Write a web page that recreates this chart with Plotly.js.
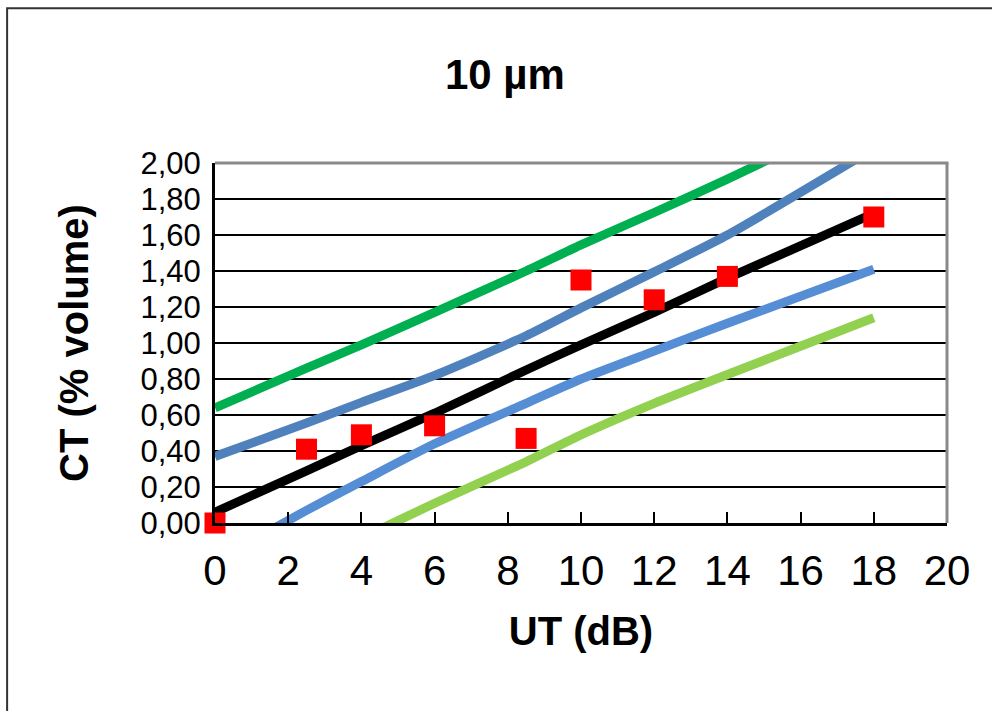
<!DOCTYPE html>
<html>
<head>
<meta charset="utf-8">
<script src="https://cdn.plot.ly/plotly-3.0.1.min.js"></script>
<style>
  html, body { margin: 0; padding: 0; background: #fff; }
  #chart { width: 992px; height: 711px; }
</style>
</head>
<body>
<div id="chart"></div>
<script>
// ---- data ----
const utDB        = [0, 2.5, 4, 6, 8.5, 10, 12, 14, 18];
const ctMeasured  = [0.00, 0.41, 0.49, 0.54, 0.47, 1.35, 1.24, 1.37, 1.70];
const ctFit       = [0.06, 0.29, 0.43, 0.61, 0.85, 0.99, 1.17, 1.36, 1.72];
const upperOuter  = [0.64, 0.86, 0.99, 1.17, 1.40, 1.545, 1.725, 1.91, 2.30];
const upperInner  = [0.37, 0.555, 0.67, 0.82, 1.04, 1.195, 1.395, 1.60, 2.08];
const lowerInner  = [-0.21, 0.07, 0.23, 0.44, 0.665, 0.80, 0.955, 1.11, 1.41];
const lowerOuter  = [-0.47, -0.23, -0.085, 0.11, 0.34, 0.49, 0.665, 0.825, 1.14];
const xTickVals   = [0, 2, 4, 6, 8, 10, 12, 14, 16, 18, 20];
const yTickVals   = [0, 0.2, 0.4, 0.6, 0.8, 1.0, 1.2, 1.4, 1.6, 1.8, 2.0];
const yTickText   = ["0,00","0,20","0,40","0,60","0,80","1,00","1,20","1,40","1,60","1,80","2,00"];

const FONT = "Liberation Sans, Arial, sans-serif";

function band(y, color) {
  return {
    x: utDB, y: y, type: "scatter", mode: "lines",
    line: { color: color, width: 9, shape: "spline", smoothing: 0.6 },
    hoverinfo: "skip", showlegend: false
  };
}

const traces = [
  band(upperOuter, "#00B050"),
  band(upperInner, "#4F81BD"),
  band(lowerInner, "#558ED5"),
  band(lowerOuter, "#92D050"),
  band(ctFit, "#000000"),
  {
    x: utDB, y: ctMeasured, type: "scatter", mode: "markers",
    marker: { symbol: "square", size: 21, color: "#FF0000", line: { width: 0 } },
    cliponaxis: false, showlegend: false
  }
];

const layout = {
  width: 992, height: 711,
  paper_bgcolor: "#ffffff", plot_bgcolor: "#ffffff",
  margin: { l: 215, r: 45, t: 163, b: 188 },
  showlegend: false,
  font: { family: FONT, color: "#000" },
  title: {
    text: "<b>10 µm</b>",
    font: { family: FONT, size: 42, color: "#000" },
    xref: "paper", x: 0.396, xanchor: "center",
    yref: "container", y: 0.895, yanchor: "middle"
  },
  xaxis: {
    range: [0, 20], tickvals: xTickVals, ticktext: xTickVals.map(String),
    showgrid: false, zeroline: false,
    showline: true, linecolor: "#000", linewidth: 3,
    ticks: "inside", ticklen: 11, tickwidth: 2, tickcolor: "#000",
    tickfont: { family: FONT, size: 42, color: "#000" },
    ticklabelstandoff: 9,
    title: { text: "<b>UT (dB)</b>", font: { family: FONT, size: 40, color: "#000" }, standoff: 24 },
    automargin: false, fixedrange: true
  },
  yaxis: {
    range: [0, 2], tickvals: yTickVals, ticktext: yTickText,
    showgrid: true, gridcolor: "#000", gridwidth: 2,
    zeroline: false,
    showline: true, linecolor: "#000", linewidth: 3,
    ticks: "outside", ticklen: 5, tickcolor: "rgba(0,0,0,0)",
    tickfont: { family: FONT, size: 31, color: "#000" },
    title: { text: "<b>CT (% volume)</b>", font: { family: FONT, size: 40, color: "#000" }, standoff: 40 },
    automargin: false, fixedrange: true
  },
  shapes: [
    { type: "line", xref: "paper", yref: "paper", x0: 0, x1: 1.002, y0: 1, y1: 1,
      line: { color: "#8a8a8a", width: 3 }, layer: "above" },
    { type: "line", xref: "paper", yref: "paper", x0: 1, x1: 1, y0: 0, y1: 1,
      line: { color: "#8a8a8a", width: 3 }, layer: "above" },
    { type: "rect", xref: "paper", yref: "paper",
      x0: -0.284, x1: 1.2, y0: -0.7, y1: 1.430,
      line: { color: "#333333", width: 2 }, fillcolor: "rgba(0,0,0,0)", layer: "below" }
  ]
};

Plotly.newPlot("chart", traces, layout, { displayModeBar: false, staticPlot: true });
</script>
</body>
</html>
